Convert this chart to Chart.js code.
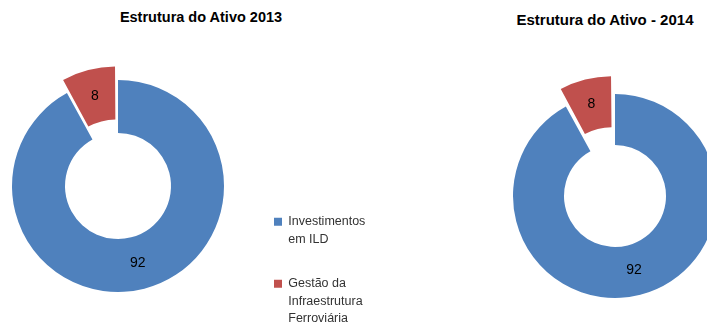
<!DOCTYPE html>
<html lang="pt">
<head>
<meta charset="utf-8">
<title>Estrutura do Ativo</title>
<script src="https://cdn.jsdelivr.net/npm/chart.js@4"></script>
<style>
  html, body { margin: 0; padding: 0; background: #fff; overflow: hidden; }
  #wrap { position: relative; width: 707px; height: 324px; overflow: hidden; }
  #wrap canvas { position: absolute; top: 0; }
  .title {
    position: absolute;
    width: 300px;
    text-align: center;
    font-family: "Liberation Sans", Arial, sans-serif;
    font-weight: bold;
    line-height: 16px;
    color: #000;
    white-space: nowrap;
  }
</style>
</head>
<body>
<div id="wrap">
  <div class="title" id="t2013" style="left:51px; top:9px; font-size:14.5px;"></div>
  <div class="title" id="t2014" style="left:455px; top:12px; font-size:15px;"></div>
  <canvas id="c2013" width="378" height="358" style="left:-11px;"></canvas>
  <canvas id="c2014" width="220" height="392" style="left:505px;"></canvas>
</div>
<script>
const categories = [["Investimentos", "em ILD"], ["Gestão da", "Infraestrutura", "Ferroviária"]];
const values2013 = [92, 8];
const values2014 = [92, 8];
const titles = ["Estrutura do Ativo 2013", "Estrutura do Ativo - 2014"];
const sliceColors = ["#4F81BD", "#C0504D"];

document.getElementById("t2013").textContent = titles[0];
document.getElementById("t2014").textContent = titles[1];

// writes each slice's value at mid-ring, moved along with the exploded slice
const valueLabels = {
  id: "valueLabels",
  afterDatasetsDraw(chart) {
    const { ctx } = chart;
    ctx.save();
    ctx.font = '14px "Liberation Sans", Arial, sans-serif';
    ctx.fillStyle = "#000";
    ctx.textAlign = "center";
    ctx.textBaseline = "middle";
    chart.data.datasets.forEach((ds, di) => {
      chart.getDatasetMeta(di).data.forEach((arc, i) => {
        const off = (arc.options.offset || 0) / 4;
        const mid = (arc.startAngle + arc.endAngle) / 2;
        const fix = 1 - Math.sin(Math.min(Math.PI, arc.circumference));
        const r = (arc.innerRadius + arc.outerRadius) / 2 + off * (1 + fix);
        ctx.fillText(String(ds.data[i]), arc.x + Math.cos(mid) * r, arc.y + Math.sin(mid) * r);
      });
    });
    ctx.restore();
  }
};

new Chart(document.getElementById("c2013"), {
  type: "doughnut",
  data: {
    labels: categories,
    datasets: [{
      data: values2013,
      backgroundColor: sliceColors,
      borderWidth: 0,
      offset: [0, 36]
    }]
  },
  options: {
    responsive: false,
    animation: false,
    radius: 106,
    cutout: "50%",
    layout: { padding: { top: 15, bottom: 1 } },
    plugins: {
      title: { display: false },
      tooltip: { enabled: false },
      legend: {
        position: "right",
        align: "end",
        maxWidth: 120,
        labels: {
          boxWidth: 8,
          boxHeight: 8,
          padding: 27,
          color: "#333",
          font: { family: '"Liberation Sans", Arial, sans-serif', size: 12.5, lineHeight: 1.4 }
        }
      }
    }
  },
  plugins: [valueLabels]
});

new Chart(document.getElementById("c2014"), {
  type: "doughnut",
  data: {
    labels: categories,
    datasets: [{
      data: values2014,
      backgroundColor: sliceColors,
      borderWidth: 0,
      offset: [0, 48]
    }]
  },
  options: {
    responsive: false,
    animation: false,
    radius: 102,
    cutout: "50%",
    plugins: {
      title: { display: false },
      tooltip: { enabled: false },
      legend: { display: false }
    }
  },
  plugins: [valueLabels]
});
</script>
</body>
</html>
